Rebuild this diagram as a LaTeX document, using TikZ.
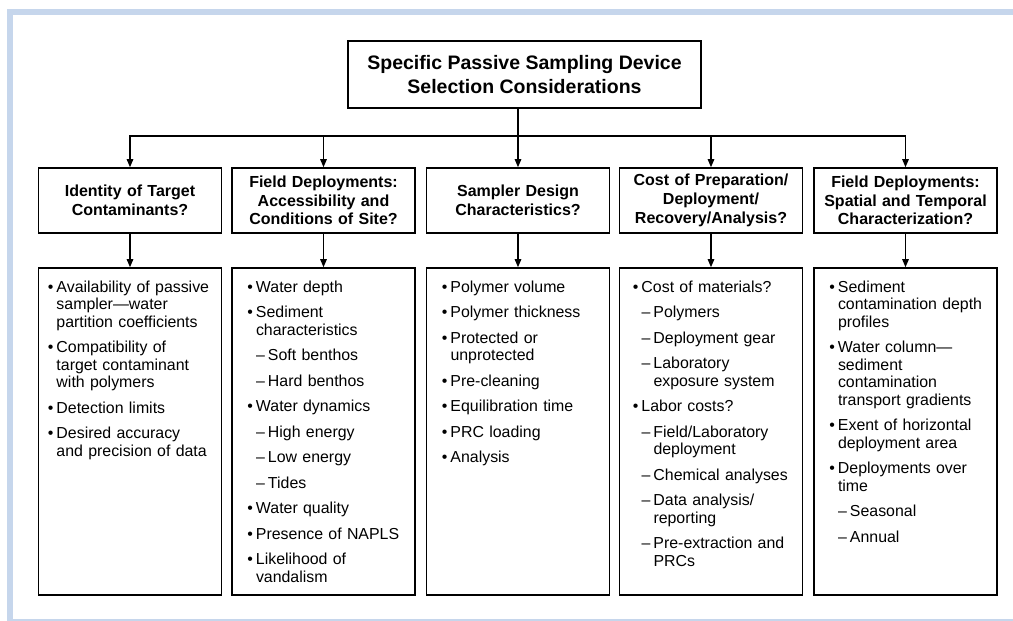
\documentclass[tikz,border=0pt]{standalone}
\usepackage{fontspec}
\setmainfont{Liberation Sans}
\usetikzlibrary{arrows.meta}
\definecolor{framebl}{RGB}{198,214,236}
\newlength{\listin}\setlength{\listin}{18pt}
\newcommand{\bul}[1]{\leftskip=\listin\noindent\llap{\textbullet\hspace{3pt}}#1\par\vspace{8pt}}
\newcommand{\dsh}[1]{\leftskip=\dimexpr\listin+12pt\relax\noindent\llap{--\hspace{3pt}}#1\par\vspace{8pt}}

\begin{document}
\begin{tikzpicture}[x=1pt,y=-1pt,
    >={Triangle[width=6.5pt,length=8pt]},
    every node/.style={draw,line width=1.6pt,inner sep=0pt},
    head/.style={minimum width=183pt,minimum height=65pt,text width=173pt,align=center,
      font=\fontsize{16}{18.7}\selectfont\bfseries},
    list/.style={minimum width=183pt,text width=171pt,inner xsep=6pt,inner ysep=8pt,
      text height=16pt,text depth=295pt,font=\fontsize{15.9}{17.5}\selectfont,
      execute at begin node=\raggedright},
    link/.style={->,line width=1.2pt}]
  \useasboundingbox(0,0)rectangle(1013,621);
  \fill[framebl](7,9)rectangle(1013,15);
  \fill[framebl](7,9)rectangle(13,621);
  \fill[framebl](7,618.5)rectangle(1013,621);

  \node[minimum width=353pt,minimum height=67pt,align=center,font=\fontsize{19.5}{23.5}\selectfont\bfseries]
    (top) at (524.5,74.5) {Specific Passive Sampling Device\\Selection Considerations};

  \node[head] (h1) at (130,200.5) {Identity of Target\\Contaminants?};
  \node[head] (h2) at (323.5,200.5) {Field Deployments:\\Accessibility and\\Conditions of Site?};
  \node[head] (h3) at (518,200.5) {Sampler Design\\Characteristics?};
  \node[head] (h4) at (711,200.5) {Cost of Preparation/\\Deployment/\\Recovery/Analysis?};
  \node[head] (h5) at (905.5,200.5) {Field Deployments:\\Spatial and Temporal\\Characterization?};

  \node[list] (b1) at (130,431.5) {\setlength{\listin}{12pt}%
    \bul{Availability of passive\\sampler---water\\partition coefficients}
    \bul{Compatibility of\\target contaminant\\with polymers}
    \bul{Detection limits}
    \bul{Desired accuracy\\and precision of data}};
  \node[list] (b2) at (323.5,431.5) {%
    \bul{Water depth}
    \bul{Sediment\\characteristics}
    \dsh{Soft benthos}
    \dsh{Hard benthos}
    \bul{Water dynamics}
    \dsh{High energy}
    \dsh{Low energy}
    \dsh{Tides}
    \bul{Water quality}
    \bul{Presence of NAPLS}
    \bul{Likelihood of\\vandalism}};
  \node[list] (b3) at (518,431.5) {%
    \bul{Polymer volume}
    \bul{Polymer thickness}
    \bul{Protected or\\unprotected}
    \bul{Pre-cleaning}
    \bul{Equilibration time}
    \bul{PRC loading}
    \bul{Analysis}};
  \node[list] (b4) at (711,431.5) {\setlength{\listin}{16pt}%
    \bul{Cost of materials?}
    \dsh{Polymers}
    \dsh{Deployment gear}
    \dsh{Laboratory\\exposure system}
    \bul{Labor costs?}
    \dsh{Field/Laboratory\\deployment}
    \dsh{Chemical analyses}
    \dsh{Data analysis/\\reporting}
    \dsh{Pre-extraction and\\PRCs}};
  \node[list] (b5) at (905.5,431.5) {%
    \bul{Sediment\\contamination depth\\profiles}
    \bul{Water column---\\sediment\\contamination\\transport gradients}
    \bul{Exent of horizontal\\deployment area}
    \bul{Deployments over\\time}
    \dsh{Seasonal}
    \dsh{Annual}};

  % top box to the five questions
  \coordinate (bus) at (0,136);
  \foreach \i in {1,...,5}
    \draw[link](top.south -| h3.north)--(h3.north |- bus)-|(h\i.north);
  \foreach \i in {1,...,5}
    \draw[link](h\i.south)--(b\i.north);
\end{tikzpicture}
\end{document}
